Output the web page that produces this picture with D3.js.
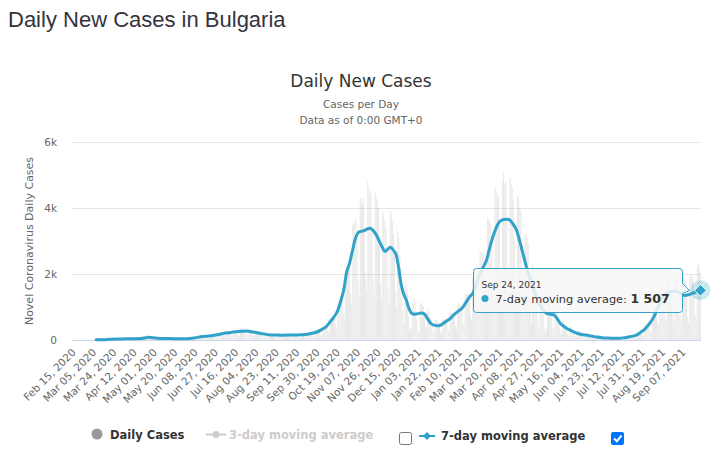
<!DOCTYPE html>
<html>
<head>
<meta charset="utf-8">
<script src="https://cdn.jsdelivr.net/npm/d3@7"></script>
<style>
  body { margin: 0; background: #fff; }
  svg { display: block; }
</style>
</head>
<body>
<svg id="chart" width="712" height="452"></svg>
<script>
// first day of the daily series, one value per day after it
const START_DATE = "2020-02-15";

// daily new cases, one row per week (Sat..Fri)
const dailyCases = [
  0,0,0,0,0,0,0,
  0,0,0,0,0,0,0,
  0,0,0,0,0,0,0,
  0,4,0,0,2,1,16,
  8,10,14,9,11,12,16,
  36,24,24,22,21,25,30,
  28,18,22,40,34,29,37,
  32,20,17,46,33,38,51,
  26,22,15,38,44,46,53,
  41,22,26,63,59,63,69,
  92,40,38,120,94,88,80,
  60,40,33,85,70,62,66,
  55,30,26,58,60,55,52,
  45,28,22,60,52,46,50,
  40,22,18,52,48,40,45,
  42,25,20,60,58,46,55,
  58,33,30,85,82,80,76,
  95,50,48,130,120,118,110,
  118,72,60,150,145,130,140,
  145,85,70,195,190,180,170,
  190,110,90,250,245,230,220,
  230,135,110,300,290,270,280,
  260,150,125,340,345,330,300,
  270,160,130,350,340,330,320,
  240,145,115,310,300,290,280,
  200,120,95,260,250,240,230,
  165,95,75,210,200,190,185,
  150,90,70,195,190,180,175,
  145,85,65,190,185,175,170,
  150,88,68,195,195,185,175,
  155,92,70,205,200,190,185,
  170,100,78,220,225,210,200,
  215,125,95,280,290,270,260,
  300,175,135,410,420,400,380,
  480,280,220,650,700,680,700,
  800,480,380,1100,1200,1250,1320,
  1350,800,650,2000,2150,2250,2400,
  2300,1400,1100,3500,3600,3500,3700,
  3100,1800,1350,4300,4200,4100,4300,
  3300,2000,1500,4800,4600,4400,4500,
  3400,1900,1400,4450,4300,4200,4000,
  2900,1700,1250,3900,3700,3600,3400,
  2800,1600,1100,3900,3800,3600,3200,
  2600,1450,950,3300,3100,2600,2200,
  1700,900,500,1800,1650,1450,700,
  250,400,350,1100,1250,1150,900,
  600,300,250,1100,1150,1050,1000,
  800,420,300,900,850,700,650,
  500,280,200,620,600,550,530,
  480,260,190,620,650,600,600,
  600,330,260,850,850,800,820,
  780,420,320,1100,1100,1050,1050,
  980,520,400,1400,1400,1350,1400,
  1350,720,600,1900,1950,1900,1950,
  1850,1000,800,2700,2650,2600,2700,
  2450,1400,1100,3700,3650,3600,3500,
  3200,1800,1450,4650,4500,4400,4400,
  3500,2000,1600,4800,5100,4700,4800,
  3600,1950,1500,4900,4750,4600,4200,
  3100,1500,1000,4400,4300,4000,3900,
  2600,1200,700,3200,3200,3100,2900,
  1900,900,500,2300,2200,2000,1700,
  1300,600,350,1400,1450,1300,1250,
  350,180,350,1100,1200,1150,1050,
  800,400,300,950,900,850,700,
  550,280,180,600,580,500,450,
  350,180,120,400,380,340,300,
  260,130,90,300,290,260,240,
  180,90,60,210,200,190,170,
  130,60,40,160,150,140,120,
  95,45,30,120,110,100,90,
  70,35,22,85,80,75,70,
  60,30,20,75,70,65,60,
  65,30,25,90,85,80,75,
  110,50,40,140,130,130,130,
  160,80,60,220,230,220,240,
  310,160,120,450,480,480,500,
  560,300,250,850,900,880,900,
  1000,550,450,1450,1500,1450,1400,
  1300,700,550,1900,1850,1800,1750,
  1500,800,600,2050,2000,1950,1900,
  1450,750,550,1950,1900,1850,1800,
  1400,700,520,1950,1950,1900,1900,
  1500,780,600,2200,2300,2150,2000
];

// 7-day moving average
const avgDates = [
  "2020-03-08","2020-03-15","2020-03-22","2020-03-29","2020-04-05","2020-04-12","2020-04-19","2020-04-26",
  "2020-05-03","2020-05-10","2020-05-17","2020-05-24","2020-05-31","2020-06-07","2020-06-14","2020-06-21",
  "2020-06-28","2020-07-05","2020-07-12","2020-07-19","2020-07-26","2020-08-02","2020-08-09","2020-08-16",
  "2020-08-23","2020-08-30","2020-09-06","2020-09-13","2020-09-20","2020-09-27","2020-10-01","2020-10-05",
  "2020-10-09","2020-10-13","2020-10-16","2020-10-20","2020-10-23","2020-10-26","2020-10-28","2020-10-31",
  "2020-11-03","2020-11-05","2020-11-07","2020-11-09","2020-11-12","2020-11-15","2020-11-19","2020-11-21",
  "2020-11-23","2020-11-26","2020-11-28","2020-12-01","2020-12-03","2020-12-06","2020-12-08","2020-12-11",
  "2020-12-14","2020-12-16","2020-12-18","2020-12-20","2020-12-23","2020-12-25","2020-12-28","2020-12-31",
  "2021-01-03","2021-01-06","2021-01-09","2021-01-12","2021-01-15","2021-01-18","2021-01-22","2021-01-25",
  "2021-01-29","2021-02-02","2021-02-05","2021-02-09","2021-02-13","2021-02-17","2021-02-20","2021-02-23",
  "2021-02-26","2021-03-01","2021-03-04","2021-03-08","2021-03-11","2021-03-14","2021-03-17","2021-03-20",
  "2021-03-23","2021-03-26","2021-03-29","2021-04-01","2021-04-05","2021-04-08","2021-04-11","2021-04-14",
  "2021-04-16","2021-04-19","2021-04-22","2021-04-25","2021-04-28","2021-05-01","2021-05-03","2021-05-07",
  "2021-05-10","2021-05-13","2021-05-16","2021-05-19","2021-05-22","2021-05-25","2021-05-29","2021-06-02",
  "2021-06-06","2021-06-09","2021-06-14","2021-06-19","2021-06-24","2021-06-29","2021-07-04","2021-07-10",
  "2021-07-15","2021-07-20","2021-07-26","2021-07-30","2021-08-03","2021-08-07","2021-08-10","2021-08-13",
  "2021-08-16","2021-08-18","2021-08-21","2021-08-23","2021-08-27","2021-09-01","2021-09-05","2021-09-09",
  "2021-09-13","2021-09-17","2021-09-21","2021-09-24"
];
const avgValues = [
  5,10,25,30,35,38,45,80,
  60,45,42,35,40,60,100,120,
  150,200,230,260,270,240,200,160,
  150,145,150,155,170,210,250,320,
  400,560,680,900,1210,1600,2020,2330,
  2750,3030,3200,3280,3300,3340,3390,3350,
  3280,3120,2980,2780,2680,2760,2810,2720,
  2530,2150,1720,1450,1210,1000,810,780,
  800,820,790,640,500,450,430,470,
  560,650,750,860,960,1150,1300,1410,
  1650,1950,2150,2420,2800,3130,3400,3580,
  3640,3660,3650,3550,3330,3000,2630,2250,
  2020,1750,1450,1200,1000,880,810,780,
  760,650,500,420,350,300,240,190,
  160,150,120,90,70,60,55,50,
  70,100,150,230,330,480,620,810,
  1050,1210,1330,1410,1470,1480,1420,1350,
  1370,1420,1470,1507
];

const yTicks = [0, 2000, 4000, 6000];
const yTickLabels = ["0", "2k", "4k", "6k"];
const LABEL_STEP = 19;

const TITLE = "Daily New Cases in Bulgaria";
const CHART_TITLE = "Daily New Cases";
const SUBTITLES = ["Cases per Day", "Data as of 0:00 GMT+0"];
const Y_TITLE = "Novel Coronavirus Daily Cases";
const TIP_DATE = "Sep 24, 2021";
const TIP_NAME = "7-day moving average";
const TIP_VALUE = "1 507";

const LINE_COLOR = "#31a2c9";
const FONT = "'DejaVu Sans', Verdana, sans-serif";

const PLOT = { left: 72, right: 701, top: 142, bottom: 340 };

const parseDay = d3.timeParse("%Y-%m-%d");
const keyFmt = d3.timeFormat("%Y-%m-%d");
const labelFmt = d3.timeFormat("%b %d, %Y");

const start = parseDay(START_DATE);
const days = dailyCases.map((v, i) => ({ date: d3.timeDay.offset(start, i), value: v }));
days.forEach(d => d.key = keyFmt(d.date));

const svg = d3.select("#chart");

const x = d3.scaleBand()
  .domain(days.map(d => d.key))
  .range([PLOT.left, PLOT.right])
  .paddingInner(0.12)
  .paddingOuter(0.06);
const y = d3.scaleLinear().domain([0, 6000]).range([PLOT.bottom, PLOT.top]);
const cx = k => x(k) + x.bandwidth() / 2;

// page title
svg.append("text")
  .attr("x", 8).attr("y", 27)
  .attr("font-family", "'Liberation Sans', Arial, sans-serif")
  .attr("font-size", 22)
  .attr("fill", "#33333d")
  .text(TITLE);

// chart title + subtitles
svg.append("text")
  .attr("x", 361).attr("y", 87)
  .attr("text-anchor", "middle")
  .attr("font-family", FONT)
  .attr("font-size", 17)
  .attr("fill", "#333")
  .text(CHART_TITLE);

svg.selectAll(".subtitle")
  .data(SUBTITLES)
  .enter()
  .append("text")
  .attr("class", "subtitle")
  .attr("x", 361)
  .attr("y", (d, i) => 108 + i * 16)
  .attr("text-anchor", "middle")
  .attr("font-family", FONT)
  .attr("font-size", 10.5)
  .attr("fill", "#666")
  .text(d => d);

// grid
svg.append("g")
  .selectAll("line")
  .data(yTicks.slice(1))
  .enter()
  .append("line")
  .attr("x1", PLOT.left).attr("x2", PLOT.right)
  .attr("y1", d => Math.round(y(d)) + 0.5)
  .attr("y2", d => Math.round(y(d)) + 0.5)
  .attr("stroke", "#e6e6e6");

// y labels
svg.append("g")
  .selectAll("text")
  .data(yTicks)
  .enter()
  .append("text")
  .attr("x", 57)
  .attr("y", d => y(d) + 4)
  .attr("text-anchor", "end")
  .attr("font-family", FONT)
  .attr("font-size", 10.5)
  .attr("fill", "#666")
  .text((d, i) => yTickLabels[i]);

svg.append("text")
  .attr("transform", "translate(33, 241) rotate(-90)")
  .attr("text-anchor", "middle")
  .attr("font-family", FONT)
  .attr("font-size", 11)
  .attr("fill", "#666")
  .text(Y_TITLE);

// daily bars (inactive state: faded)
svg.append("g")
  .attr("opacity", 0.22)
  .selectAll("rect")
  .data(days)
  .enter()
  .append("rect")
  .attr("x", d => x(d.key))
  .attr("width", x.bandwidth())
  .attr("y", d => y(d.value))
  .attr("height", d => y(0) - y(d.value))
  .attr("fill", "#999");

// x axis line
svg.append("line")
  .attr("x1", PLOT.left).attr("x2", PLOT.right)
  .attr("y1", PLOT.bottom + 0.5).attr("y2", PLOT.bottom + 0.5)
  .attr("stroke", "#ccd6eb");

// x labels
svg.append("g")
  .selectAll("text")
  .data(days.filter((d, i) => i % LABEL_STEP === 0))
  .enter()
  .append("text")
  .attr("transform", d => `translate(${cx(d.key) + 4}, ${PLOT.bottom + 13}) rotate(-45)`)
  .attr("text-anchor", "end")
  .attr("font-family", FONT)
  .attr("font-size", 10.5)
  .attr("fill", "#666")
  .text(d => labelFmt(d.date));

// 7-day line
const avgPts = avgDates.map((d, i) => ({ key: d, value: avgValues[i] }));
const line = d3.line()
  .x(d => cx(d.key))
  .y(d => y(d.value))
  .curve(d3.curveMonotoneX);

svg.append("path")
  .datum(avgPts)
  .attr("d", line)
  .attr("fill", "none")
  .attr("stroke", LINE_COLOR)
  .attr("stroke-width", 3)
  .attr("stroke-linejoin", "round")
  .attr("stroke-linecap", "round");

// hovered point
const last = avgPts[avgPts.length - 1];
const px = cx(last.key), py = y(last.value);
svg.append("circle")
  .attr("cx", px).attr("cy", py).attr("r", 10)
  .attr("fill", LINE_COLOR).attr("fill-opacity", 0.25);
svg.append("path")
  .attr("d", d3.symbol(d3.symbolDiamond2, 90)())
  .attr("transform", `translate(${px},${py})`)
  .attr("fill", LINE_COLOR)
  .attr("stroke", "#fff")
  .attr("stroke-width", 1);

// tooltip
const tip = svg.append("g").attr("transform", "translate(473.5, 268.5)");
tip.append("path")
  .attr("d", "M3,0 H206 a3,3 0 0 1 3,3 V15 L216,22 L209,25 V41 a3,3 0 0 1 -3,3 H3 a3,3 0 0 1 -3,-3 V3 a3,3 0 0 1 3,-3 Z")
  .attr("fill", "rgba(247,247,247,0.85)")
  .attr("stroke", LINE_COLOR)
  .attr("stroke-width", 1);
tip.append("text")
  .attr("x", 8).attr("y", 19)
  .attr("font-family", FONT)
  .attr("font-size", 9)
  .attr("fill", "#333")
  .text(TIP_DATE);
tip.append("circle")
  .attr("cx", 11.5).attr("cy", 30)
  .attr("r", 3.5)
  .attr("fill", LINE_COLOR);
const tipLine = tip.append("text")
  .attr("x", 22).attr("y", 34)
  .attr("font-family", FONT)
  .attr("font-size", 11.3)
  .attr("fill", "#333");
tipLine.append("tspan").text(TIP_NAME + ": ");
tipLine.append("tspan").attr("font-weight", "bold").attr("font-size", 12.5).text(TIP_VALUE);

// legend
const legend = svg.append("g").attr("font-family", FONT).attr("font-weight", "bold").attr("font-size", 11.5);

legend.append("circle").attr("cx", 97).attr("cy", 434).attr("r", 5.5).attr("fill", "#999");
legend.append("text").attr("x", 110).attr("y", 439).attr("fill", "#333").text("Daily Cases");

legend.append("line").attr("x1", 206).attr("x2", 226).attr("y1", 434.5).attr("y2", 434.5)
  .attr("stroke", "#ccc").attr("stroke-width", 2);
legend.append("circle").attr("cx", 216).attr("cy", 434.5).attr("r", 3.5).attr("fill", "#ccc");
legend.append("text").attr("x", 229).attr("y", 439).attr("fill", "#ccc").text("3-day moving average");

legend.append("line").attr("x1", 419).attr("x2", 435).attr("y1", 436).attr("y2", 436)
  .attr("stroke", LINE_COLOR).attr("stroke-width", 2);
legend.append("path").attr("d", d3.symbol(d3.symbolDiamond2, 40)())
  .attr("transform", "translate(427,436)").attr("fill", LINE_COLOR);
legend.append("text").attr("x", 441).attr("y", 440).attr("fill", "#333").text("7-day moving average");

// checkboxes
svg.append("rect")
  .attr("x", 399.5).attr("y", 432.5).attr("width", 12).attr("height", 12).attr("rx", 2)
  .attr("fill", "#fff").attr("stroke", "#767676");
svg.append("rect")
  .attr("x", 611).attr("y", 432).attr("width", 13).attr("height", 13).attr("rx", 2)
  .attr("fill", "#0075ff");
svg.append("path")
  .attr("d", "M614,438.5 L616.8,441.3 L621.5,435.5")
  .attr("fill", "none").attr("stroke", "#fff").attr("stroke-width", 2);
</script>
</body>
</html>
